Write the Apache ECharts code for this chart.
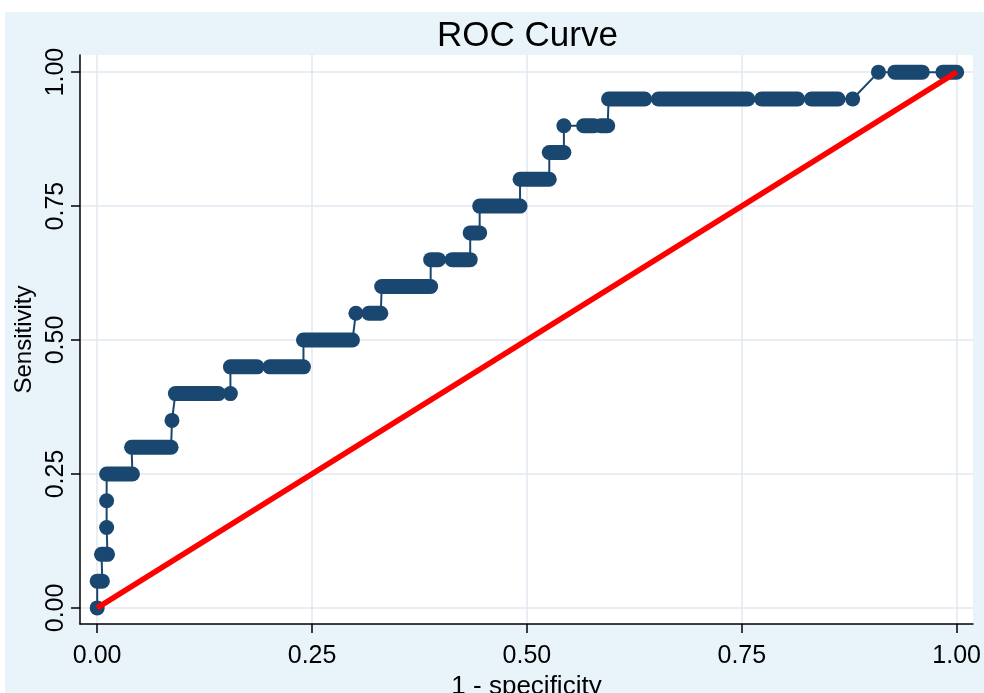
<!DOCTYPE html>
<html>
<head>
<meta charset="utf-8">
<script src="https://cdn.jsdelivr.net/npm/echarts@6/dist/echarts.min.js"></script>
<style>
  html, body { margin: 0; padding: 0; background: #fff; }
  #chart { position: absolute; left: 5px; top: 12px; width: 979px; height: 681px; }
</style>
</head>
<body>
<div id="chart"></div>
<script>
// runs of ROC points at the same sensitivity
const runTpr = [0, 0.05, 0.10, 0.15, 0.20, 0.25, 0.30, 0.35, 0.40, 0.40, 0.45, 0.45, 0.50, 0.55, 0.55, 0.60,
  0.65, 0.65, 0.70, 0.75, 0.80, 0.85, 0.90, 0.90, 0.90, 0.95, 0.95, 0.95, 0.95, 0.95, 1.00, 1.00, 1.00]
const runFrom = [0, 0, 0.005, 0.011, 0.011, 0.011, 0.040, 0.087, 0.091, 0.155, 0.155, 0.201, 0.240, 0.301, 0.316, 0.331,
  0.388, 0.413, 0.434, 0.445, 0.492, 0.526, 0.543, 0.566, 0.586, 0.595, 0.653, 0.773, 0.831, 0.879, 0.909, 0.928, 0.984]
const runTo = [0, 0.006, 0.012, 0.011, 0.011, 0.041, 0.086, 0.087, 0.141, 0.155, 0.186, 0.240, 0.297, 0.301, 0.330, 0.388,
  0.397, 0.434, 0.445, 0.492, 0.526, 0.543, 0.543, 0.578, 0.594, 0.637, 0.757, 0.815, 0.862, 0.879, 0.909, 0.960, 1.000]

// reference line
const diagX = [0, 1]
const diagY = [0, 1]

const tickValues = [0, 0.25, 0.5, 0.75, 1]

const navy = '#1a476f'
const font = '"Liberation Sans", Arial, sans-serif'

const runData = runTpr.map((y, i) => [runFrom[i], runTo[i], y])
const stepData = []
runTpr.forEach((y, i) => {
  stepData.push([runFrom[i], y])
  stepData.push([runTo[i], y])
})

const chart = echarts.init(document.getElementById('chart'))

const axisCommon = {
  type: 'value',
  axisLine: { show: true, onZero: false, lineStyle: { color: '#000', width: 1.5 } },
  axisTick: { show: true, customValues: tickValues, length: 9, lineStyle: { color: '#000', width: 1.5 } },
  axisLabel: {
    customValues: tickValues, formatter: v => v.toFixed(2),
    fontSize: 25, color: '#000', fontFamily: font
  },
  splitLine: { show: true, lineStyle: { color: '#e1e9f1', width: 1.5 } },
  nameLocation: 'middle',
  nameTextStyle: { color: '#000', fontFamily: font }
}

chart.setOption({
  backgroundColor: '#e9f3fa',
  animation: false,
  title: {
    text: 'ROC Curve',
    left: 427,
    top: 2,
    textStyle: { fontSize: 35, fontWeight: 'normal', color: '#000', fontFamily: font }
  },
  grid: {
    left: 75, top: 43, right: 11, bottom: 69,
    outerBoundsMode: 'none',
    show: true, backgroundColor: '#fff', borderWidth: 0
  },
  xAxis: Object.assign({}, axisCommon, {
    min: -0.02, max: 1.019,
    name: '1 - specificity', nameGap: 42,
    nameTextStyle: Object.assign({}, axisCommon.nameTextStyle, { fontSize: 26 }),
    axisLabel: Object.assign({}, axisCommon.axisLabel, { margin: 20 })
  }),
  yAxis: Object.assign({}, axisCommon, {
    min: -0.03, max: 1.032,
    name: 'Sensitivity', nameGap: 31,
    nameTextStyle: Object.assign({}, axisCommon.nameTextStyle, { fontSize: 24 }),
    axisLabel: Object.assign({}, axisCommon.axisLabel, { rotate: 90, margin: 11 })
  }),
  series: [
    {
      type: 'line',
      data: stepData,
      symbol: 'none',
      lineStyle: { color: navy, width: 2 },
      z: 2
    },
    {
      type: 'custom',
      data: runData,
      encode: { x: [0, 1], y: 2 },
      renderItem: (params, api) => {
        const a = api.coord([api.value(0), api.value(2)])
        const b = api.coord([api.value(1), api.value(2)])
        return {
          type: 'rect',
          shape: { x: a[0] - 7.5, y: a[1] - 7.5, width: b[0] - a[0] + 15, height: 15, r: 7.5 },
          style: { fill: navy }
        }
      },
      z: 3
    },
    {
      type: 'line',
      data: diagX.map((x, i) => [x, diagY[i]]),
      symbol: 'none',
      lineStyle: { color: '#ff0000', width: 5.5 },
      z: 5
    }
  ]
})

window.addEventListener('resize', () => chart.resize())
</script>
</body>
</html>
